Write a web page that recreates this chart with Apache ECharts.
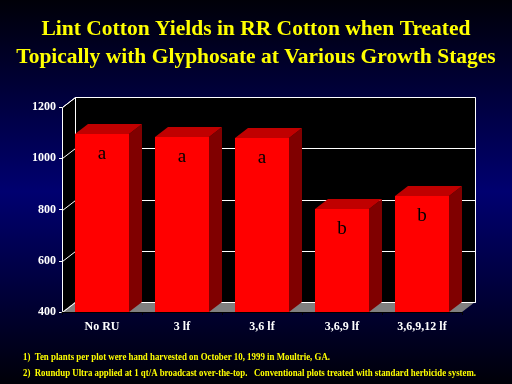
<!DOCTYPE html>
<html><head><meta charset="utf-8">
<script src="https://cdn.jsdelivr.net/npm/echarts@6/dist/echarts.min.js"></script>
<style>html,body{margin:0;padding:0;background:#000;}#c{width:512px;height:384px;}</style>
</head><body><div id="c"></div>
<script>
const categories = ['No RU', '3 lf', '3,6 lf', '3,6,9 lf', '3,6,9,12 lf'];
const yields = [1095, 1083, 1080, 802, 853];
const letters = ['a', 'a', 'a', 'b', 'b'];
const yTicks = [400, 600, 800, 1000, 1200];
const titleLines = ['Lint Cotton Yields in RR Cotton when Treated', 'Topically with Glyphosate at Various Growth Stages'];
const footnotes = [
  '1)  Ten plants per plot were hand harvested on October 10, 1999 in Moultrie, GA.',
  '2)  Roundup Ultra applied at 1 qt/A broadcast over-the-top.   Conventional plots treated with standard herbicide system.'
];

const DX = 13, DY = -10;
const SERIF = '"Liberation Serif", "Times New Roman", serif';
const FONT_NOTE = 'bold 10px ' + SERIF;
const noteWidths = [307, 453];

const mctx = document.createElement('canvas').getContext('2d');
mctx.font = FONT_NOTE;

const chart = echarts.init(document.getElementById('c'), null, {renderer: 'canvas'});

function px(v) { return Math.round(v) + 0.5; }

function renderFrame(params, api) {
  const cs = params.coordSys;
  const x0 = Math.round(cs.x), x1 = Math.round(cs.x + cs.width);
  const yT = Math.round(cs.y), yB = Math.round(cs.y + cs.height);
  const ch = [];
  ch.push({type: 'rect', shape: {x: px(x0 + DX), y: px(yT + DY), width: x1 - x0, height: yB - yT},
    style: {fill: '#000', stroke: '#fff', lineWidth: 1}});
  ch.push({type: 'polygon', shape: {points: [[px(x0), px(yT)], [px(x0 + DX), px(yT + DY)], [px(x0 + DX), px(yB + DY)], [px(x0), px(yB)]]},
    style: {fill: '#000', stroke: '#fff', lineWidth: 1}});
  yTicks.forEach(function (v) {
    const y = Math.round(api.coord([0, v])[1]);
    ch.push({type: 'line', shape: {x1: px(x0 + DX), y1: px(y + DY), x2: px(x1 + DX), y2: px(y + DY)}, style: {stroke: '#fff', lineWidth: 1}});
    ch.push({type: 'line', shape: {x1: px(x0), y1: px(y), x2: px(x0 + DX), y2: px(y + DY)}, style: {stroke: '#fff', lineWidth: 1}});
  });
  ch.push({type: 'polygon', shape: {points: [[x0, yB], [x1, yB], [x1 + DX, yB + DY], [x0 + DX, yB + DY]]},
    style: {fill: '#808080', stroke: null}});
  ch.push({type: 'line', shape: {x1: px(x0 + DX), y1: px(yB + DY), x2: px(x1 + DX), y2: px(yB + DY)}, style: {stroke: '#fff', lineWidth: 1}});
  ch.push({type: 'line', shape: {x1: px(x0), y1: px(yB), x2: px(x0 + DX), y2: px(yB + DY)}, style: {stroke: '#fff', lineWidth: 1}});
  return {type: 'group', children: ch};
}

function renderBar(params, api) {
  const idx = api.value(0);
  const top = api.coord([idx, api.value(1)]);
  const base = api.coord([idx, yTicks[0]]);
  const w = api.size([1, 0])[0] * 0.67;
  const xl = Math.round(top[0] - w / 2), xr = Math.round(top[0] + w / 2);
  const yt = Math.round(top[1]), yb = Math.round(base[1]);
  return {type: 'group', children: [
    {type: 'polygon', shape: {points: [[xr, yt], [xr + DX, yt + DY], [xr + DX, yb + DY], [xr, yb]]}, style: {fill: '#800000'}},
    {type: 'polygon', shape: {points: [[xl, yt], [xr, yt], [xr + DX, yt + DY], [xl + DX, yt + DY]]}, style: {fill: '#c00000'}},
    {type: 'rect', shape: {x: xl, y: yt, width: xr - xl, height: yb - yt}, style: {fill: '#ff0000'}},
    {type: 'text', x: (xl + xr) / 2, y: yt + 20, style: {text: letters[params.dataIndex], fill: '#000',
      font: '19px ' + SERIF, align: 'center', verticalAlign: 'middle'}}
  ]};
}

const option = {
  backgroundColor: {type: 'linear', x: 0, y: 0, x2: 0, y2: 1, colorStops: [
    {offset: 0, color: '#000008'}, {offset: 0.5, color: '#000070'}, {offset: 1, color: '#000008'}]},
  animation: false,
  title: {
    text: titleLines.join('\n'), left: 'center', top: 10,
    textStyle: {color: '#ffff00', fontFamily: SERIF, fontWeight: 'bold', fontSize: 21.5, lineHeight: 28}
  },
  grid: {left: 62, top: 107, width: 400, height: 205},
  xAxis: {
    type: 'category', data: categories,
    axisLine: {show: true, lineStyle: {color: '#000', width: 1}},
    axisTick: {show: true, length: 3, lineStyle: {color: '#000'}},
    axisLabel: {color: '#fff', fontFamily: SERIF, fontWeight: 'bold', fontSize: 12, margin: 9},
    z: 5
  },
  yAxis: {
    type: 'value', min: 400, max: 1200, interval: 200,
    axisLine: {show: false},
    axisTick: {show: true, length: 3, lineStyle: {color: '#fff'}},
    axisLabel: {color: '#fff', fontFamily: SERIF, fontWeight: 'bold', fontSize: 12, margin: 6,
      formatter: function (v) { return String(v); }},
    splitLine: {show: false}
  },
  series: [
    {type: 'custom', renderItem: renderFrame, data: [[0, 400]], z: 1, silent: true},
    {type: 'custom', renderItem: renderBar, data: categories.map(function (c, i) { return [i, yields[i]]; }), z: 2}
  ],
  graphic: footnotes.map(function (t, i) {
    const sx = noteWidths[i] / mctx.measureText(t).width;
    return {type: 'text', left: 23, top: 352 + i * 16, scaleX: sx, originX: 0,
      style: {text: t, font: FONT_NOTE, fill: '#ffff00'}};
  })
};
chart.setOption(option);
</script></body></html>
